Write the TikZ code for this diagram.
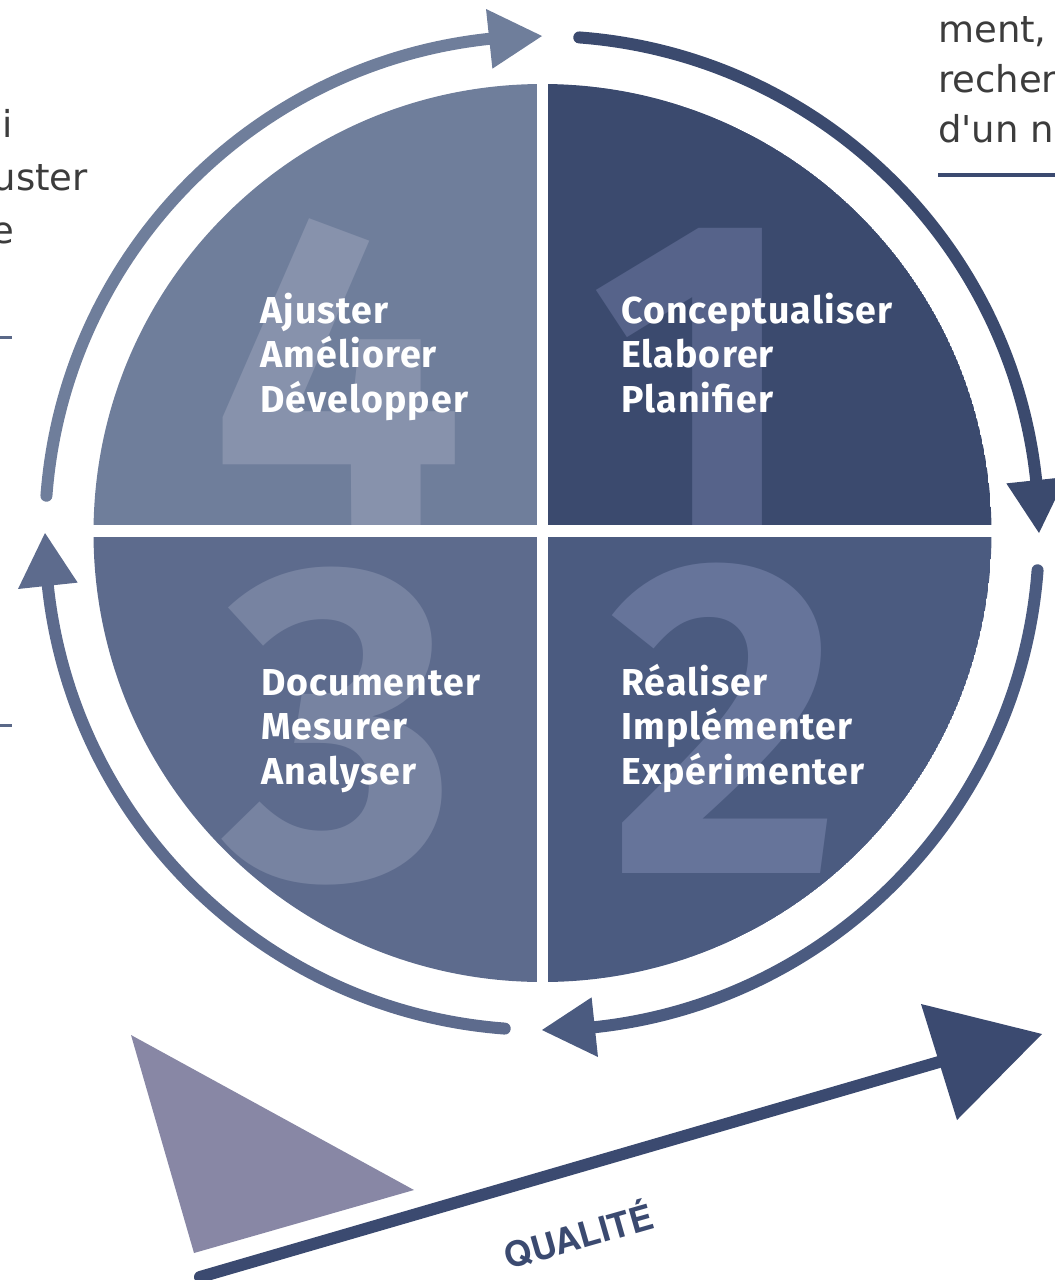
\documentclass[tikz,border=0pt]{standalone}
\usepackage{fontspec}
\setmainfont{Fira Sans}
\newfontfamily\lblfont{Fira Sans}[LetterSpace=3.0]
\newfontfamily\sidefont{DejaVu Sans}
\newfontfamily\heros{TeX Gyre Heros}
\definecolor{qone}{HTML}{3B4A6E}
\definecolor{qtwo}{HTML}{4B5B80}
\definecolor{qthree}{HTML}{5D6B8D}
\definecolor{qfour}{HTML}{6F7E9B}
\definecolor{done}{HTML}{56638A}
\definecolor{dtwo}{HTML}{66749A}
\definecolor{dthree}{HTML}{7783A1}
\definecolor{dfour}{HTML}{8792AC}
\definecolor{navy}{HTML}{3B4A70}
\definecolor{lav}{HTML}{8887A5}
\definecolor{txtgray}{HTML}{3C3C3C}
\definecolor{rulegray}{HTML}{5A6888}
\begin{document}
\begin{tikzpicture}[x=1pt,y=1pt,
  ring/.style={line width=12pt, line cap=round},
  lbl/.style={anchor=base west, inner sep=0pt, text=white, font=\lblfont\bfseries\fontsize{37.5}{44.5}\selectfont},
  digit/.style={anchor=base, inner sep=0pt, font=\bfseries\fontsize{450}{450}\selectfont},
  side/.style={inner sep=0pt, text=txtgray, font=\sidefont\fontsize{37}{50}\selectfont},
  gap/.style={white, line width=12pt}]
\useasboundingbox (0,0) rectangle (1055,-1280);
\begin{scope}
\clip (0,0) rectangle (1055,-1280);
\coordinate (D) at (542.5,-533);
\coordinate (R) at (542,-533);
% quadrant 1 (top right)
\begin{scope}
\clip (D) -- ++(0:449) arc[start angle=0,end angle=90,radius=449] -- cycle;
\fill[qone] (D) circle[radius=449];
\node[digit, text=done] (n1) at (695,-532) {1};
\end{scope}
% quadrant 2 (bottom right)
\begin{scope}
\clip (D) -- ++(-90:449) arc[start angle=-90,end angle=0,radius=449] -- cycle;
\fill[qtwo] (D) circle[radius=449];
\node[digit, text=dtwo] (n2) at (726,-873) {2};
\end{scope}
% quadrant 3 (bottom left)
\begin{scope}
\clip (D) -- ++(180:449) arc[start angle=180,end angle=270,radius=449] -- cycle;
\fill[qthree] (D) circle[radius=449];
\node[digit, text=dthree] (n3) at (340,-877) {3};
\end{scope}
% quadrant 4 (top left)
\begin{scope}
\clip (D) -- ++(90:449) arc[start angle=90,end angle=180,radius=449] -- cycle;
\fill[qfour] (D) circle[radius=449];
\node[digit, text=dfour] (n4) at (338,-530) {4};
\end{scope}
% white cross
\draw[gap, line width=11pt] (542.5,-70) -- (542.5,-1000);
\draw[gap] (80,-530.5) -- (1005,-530.5);
% labels
\node[lbl] (l4) at (260,-323) {\parbox[t]{300pt}{\raggedright Ajuster\\Améliorer\\Développer}};
\node[lbl] (l1) at (621,-323) {\parbox[t]{330pt}{\raggedright Conceptualiser\\Elaborer\\Planifier}};
\node[lbl] (l3) at (261,-695) {\parbox[t]{300pt}{\raggedright Documenter\\Mesurer\\Analyser}};
\node[lbl] (l2) at (621,-695) {\parbox[t]{300pt}{\raggedright Réaliser\\Implémenter\\Expérimenter}};
% ring arcs
\draw[ring, qfour] ([shift={(175.7:497)}]R) arc[start angle=175.7, end angle=96.1, radius=497];
\fill[qfour] ([shift={(90:497)}]R) -- ([shift={(96.1:467)}]R) -- ([shift={(96.1:527)}]R) -- cycle;
\draw[ring, qone] ([shift={(85.7:497)}]R) arc[start angle=85.7, end angle=6.1, radius=497];
\fill[qone] ([shift={(0:497)}]R) -- ([shift={(6.1:467)}]R) -- ([shift={(6.1:527)}]R) -- cycle;
\draw[ring, qtwo] ([shift={(-4.3:497)}]R) arc[start angle=-4.3, end angle=-83.9, radius=497];
\fill[qtwo] ([shift={(-90:497)}]R) -- ([shift={(-83.9:467)}]R) -- ([shift={(-83.9:527)}]R) -- cycle;
\draw[ring, qthree] ([shift={(-94.3:497)}]R) arc[start angle=-94.3, end angle=-173.9, radius=497];
\fill[qthree] ([shift={(-180:497)}]R) -- ([shift={(-173.9:467)}]R) -- ([shift={(-173.9:527)}]R) -- cycle;
% bottom triangle
\fill[lav] (131,-1035) -- (194,-1253) -- (414,-1190) -- cycle;
% quality arrow
\coordinate (qs) at (200,-1277);
\coordinate (qb) at (939,-1062);
\coordinate (qt) at (1042,-1034);
\draw[navy, line width=12pt, line cap=round] (qs) -- (qb);
\fill[navy] (qt) -- (921,-1004) -- (957,-1120) -- cycle;
\node[rotate=16, text=navy, inner sep=0pt, font=\heros\bfseries\fontsize{35}{35}\selectfont] (q) at (578,-1234) {QUALITÉ};
% side texts
\node[side, anchor=base east] (s1) at (13,-137) {i};
\node[side, anchor=base east] (s2) at (88,-190) {uster};
\node[side, anchor=base east] (s3) at (14,-243) {e};
\node[side, anchor=base west] (r1) at (938,-42) {ment,};
\node[side, anchor=base west] (r2) at (938,-92) {recher};
\node[side, anchor=base west] (r3) at (938,-142) {d{\char"27}un n};
\draw[rulegray, line width=3pt] (0,-337) -- (12,-337);
\draw[rulegray, line width=3pt] (0,-725) -- (12,-725);
\draw[navy, line width=4pt] (938,-175) -- (1055,-175);
\end{scope}
\end{tikzpicture}
\end{document}
